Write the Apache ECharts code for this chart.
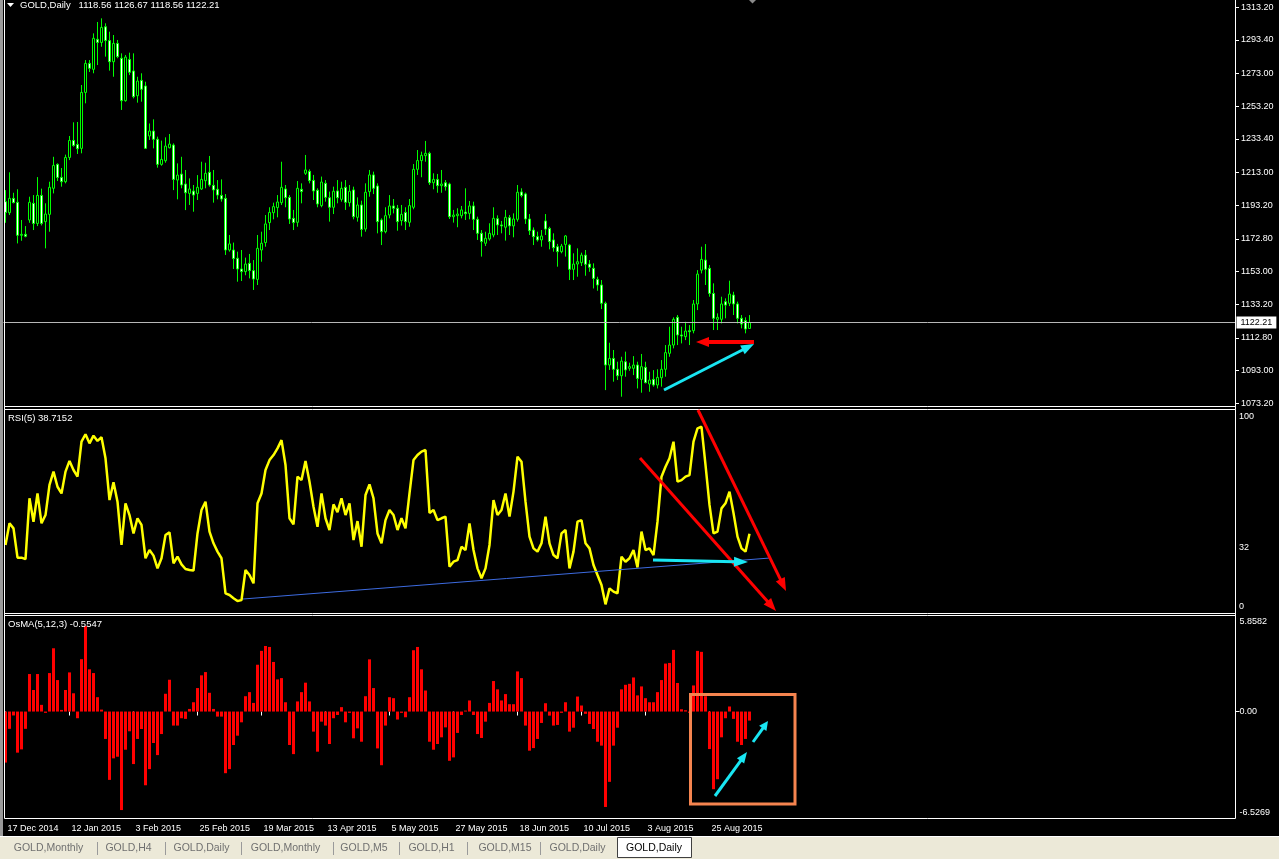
<!DOCTYPE html>
<html><head><meta charset="utf-8">
<script src="https://cdn.jsdelivr.net/npm/echarts@6/dist/echarts.min.js"></script>
<style>html,body{margin:0;padding:0;background:#000;overflow:hidden}#c{width:1279px;height:859px}</style>
</head><body><div id="c"></div>
<script>
// ---------- DATA ----------
const openP = [
1195.4,1188.7,1197.4,1195.0,1175.0,1175.6,1184.3,1194.4,1182.2,1199.2,
1183.3,1187.7,1203.5,1218.0,1210.1,1207.5,1222.2,1232.5,1230.1,1227.7,
1261.6,1279.2,1275.6,1293.8,1291.9,1301.4,1293.0,1280.2,1291.3,1282.3,
1256.6,1281.6,1274.6,1259.6,1268.9,1265.5,1235.2,1238.2,1233.2,1218.0,
1220.2,1228.1,1229.7,1208.5,1212.1,1206.1,1200.4,1201.8,1200.4,1203.1,
1208.1,1213.2,1205.3,1202.9,1199.2,1197.4,1166.1,1166.1,1161.1,1154.6,
1153.0,1158.0,1153.6,1148.3,1166.1,1170.6,1182.7,1188.7,1191.8,1194.8,
1203.1,1198.0,1185.3,1182.9,1202.9,1212.6,1213.8,1208.3,1202.3,1193.0,
1206.5,1197.8,1192.0,1201.9,1196.8,1204.1,1194.8,1202.5,1185.9,1193.4,
1178.8,1201.5,1211.6,1204.9,1184.3,1177.2,1187.3,1192.8,1191.4,1183.9,
1188.9,1182.9,1192.0,1215.0,1220.3,1223.3,1224.7,1206.9,1208.9,1205.1,
1206.9,1206.1,1186.3,1186.9,1186.9,1189.1,1188.3,1192.8,1184.7,1176.2,
1170.2,1172.8,1175.2,1185.1,1181.3,1179.9,1185.7,1180.7,1184.7,1201.3,
1200.1,1184.9,1178.2,1174.2,1172.2,1183.7,1179.2,1172.2,1168.1,1165.1,
1169.5,1169.1,1154.4,1157.6,1158.4,1163.0,1157.6,1155.0,1148.3,1144.9,
1133.8,1096.4,1100.4,1093.8,1089.9,1098.4,1094.4,1094.4,1096.4,1087.7,
1095.0,1084.9,1087.7,1084.3,1088.7,1093.8,1103.5,1108.5,1125.3,1114.6,
1113.6,1117.2,1117.2,1133.4,1153.9,1160.0,1155.0,1139.8,1124.1,1124.1,
1134.8,1133.8,1138.8,1133.4,1124.7,1123.3,1118.56];
const closeP = [
1188.9,1197.4,1194.8,1175.0,1175.6,1174.4,1195.0,1182.2,1199.2,1182.2,
1187.9,1204.1,1217.4,1210.1,1207.5,1222.2,1232.5,1229.5,1227.5,1261.6,
1279.2,1276.2,1294.4,1291.9,1301.0,1293.0,1280.2,1291.3,1283.3,1256.6,
1283.0,1273.8,1259.0,1268.5,1263.5,1227.7,1238.2,1233.2,1218.0,1221.0,
1229.1,1230.3,1208.9,1211.5,1205.5,1200.8,1203.1,1199.4,1204.1,1208.9,
1212.6,1205.5,1202.5,1199.4,1197.0,1166.1,1169.8,1160.9,1154.6,1153.0,
1157.6,1153.6,1148.5,1167.1,1170.2,1181.9,1188.9,1192.4,1195.2,1204.1,
1197.8,1184.9,1182.7,1203.5,1201.5,1214.6,1208.1,1201.9,1194.0,1207.3,
1198.0,1192.0,1201.7,1197.8,1203.5,1195.0,1201.7,1186.3,1193.4,1178.6,
1201.1,1211.6,1203.5,1183.3,1177.2,1186.9,1192.8,1191.4,1183.3,1187.7,
1183.3,1193.0,1215.0,1220.3,1223.5,1224.7,1206.9,1208.9,1205.1,1206.1,
1204.5,1186.3,1187.3,1187.9,1190.4,1188.1,1192.8,1184.7,1176.2,1171.2,
1173.2,1176.2,1185.3,1181.3,1180.7,1185.9,1180.7,1184.9,1201.1,1199.1,
1184.9,1177.8,1174.2,1172.2,1174.6,1178.8,1171.2,1167.5,1165.1,1168.5,
1174.6,1154.4,1157.6,1159.0,1163.0,1157.4,1155.6,1148.9,1144.9,1133.8,
1096.4,1100.4,1093.8,1089.9,1098.8,1093.4,1095.4,1096.4,1088.3,1095.4,
1085.7,1087.3,1084.3,1088.9,1093.8,1103.9,1108.5,1124.1,1114.6,1114.0,
1117.0,1116.6,1133.4,1151.5,1160.4,1154.4,1139.8,1124.7,1125.3,1133.4,
1132.7,1139.4,1133.4,1124.7,1121.2,1118.2,1122.21];
const lowP = [
1182.6,1187.3,1194.4,1170.1,1171.7,1173.8,1182.6,1178.2,1180.6,1181.0,
1167.1,1177.2,1200.4,1207.9,1204.5,1206.5,1220.6,1228.7,1224.3,1224.7,
1255.0,1274.0,1273.2,1278.2,1289.3,1283.3,1274.8,1271.1,1282.3,1251.0,
1256.0,1272.1,1258.0,1255.4,1256.0,1227.5,1232.8,1227.7,1216.0,1217.2,
1219.0,1227.7,1202.4,1196.8,1203.5,1190.3,1193.4,1189.3,1196.4,1202.5,
1203.5,1204.5,1194.8,1196.8,1195.4,1163.1,1165.1,1154.6,1146.9,1147.3,
1150.8,1148.9,1141.9,1144.9,1159.0,1168.1,1178.2,1184.7,1185.9,1193.4,
1192.0,1181.9,1178.2,1180.2,1194.4,1211.6,1206.5,1196.4,1192.0,1192.0,
1195.4,1183.3,1187.9,1194.4,1195.4,1190.4,1192.4,1184.7,1183.3,1174.2,
1177.2,1198.4,1200.0,1176.2,1169.1,1176.2,1185.3,1188.3,1177.8,1180.9,
1178.2,1180.2,1190.8,1211.6,1210.2,1219.6,1205.5,1202.9,1200.8,1200.8,
1202.1,1184.9,1182.7,1179.9,1185.3,1184.3,1184.7,1178.2,1172.2,1162.1,
1168.5,1171.8,1173.8,1175.2,1176.2,1171.8,1175.2,1173.8,1183.3,1198.0,
1181.9,1175.2,1169.1,1171.2,1168.1,1175.2,1166.5,1165.1,1156.0,1164.1,
1162.1,1147.9,1147.9,1149.9,1156.4,1150.5,1152.9,1142.8,1141.4,1130.3,
1081.2,1093.4,1086.3,1087.3,1077.2,1089.3,1092.9,1090.3,1082.2,1079.6,
1085.3,1080.2,1083.3,1082.2,1083.3,1089.3,1101.4,1106.5,1108.5,1109.5,
1111.5,1108.5,1115.6,1129.7,1151.9,1144.9,1137.8,1117.6,1117.6,1121.6,
1124.7,1132.1,1126.7,1121.6,1118.6,1115.6,1118.56];
const highP = [
1202.4,1213.2,1200.8,1202.9,1184.3,1180.6,1198.4,1199.4,1210.3,1203.3,
1194.4,1207.5,1222.6,1218.6,1215.8,1223.9,1235.2,1243.5,1243.7,1266.1,
1281.2,1281.2,1297.4,1304.3,1306.5,1303.5,1298.4,1296.4,1293.4,1285.3,
1284.3,1285.7,1285.3,1271.1,1273.2,1268.1,1242.8,1245.3,1234.8,1232.4,
1234.4,1236.4,1230.7,1218.6,1222.6,1214.6,1209.5,1205.5,1211.5,1219.6,
1219.0,1223.1,1214.6,1208.5,1208.9,1200.0,1175.2,1170.6,1165.1,1166.1,
1161.5,1163.7,1160.0,1175.2,1177.2,1187.3,1192.0,1194.8,1199.4,1219.6,
1205.5,1199.4,1190.4,1207.9,1206.5,1223.7,1215.0,1211.6,1203.5,1210.6,
1208.5,1201.5,1204.5,1208.5,1207.5,1208.5,1205.5,1204.5,1198.0,1196.0,
1206.5,1214.6,1213.6,1206.5,1185.3,1192.0,1199.4,1197.0,1193.4,1193.4,
1192.0,1197.0,1218.2,1226.7,1225.7,1232.2,1225.7,1212.6,1212.2,1214.6,
1208.5,1206.9,1190.4,1191.4,1192.8,1203.5,1195.8,1195.4,1186.3,1178.2,
1177.2,1182.3,1192.0,1187.1,1183.7,1190.4,1187.3,1188.3,1205.5,1203.5,
1200.9,1187.9,1179.8,1177.2,1178.2,1187.9,1180.2,1176.2,1169.8,1169.8,
1175.2,1169.8,1164.1,1167.1,1164.5,1166.1,1160.0,1158.0,1149.9,1147.9,
1134.8,1109.9,1105.5,1098.4,1101.4,1104.5,1097.8,1101.8,1098.4,1103.1,
1098.4,1092.3,1093.3,1093.8,1099.4,1108.5,1119.6,1125.3,1126.7,1119.6,
1122.6,1120.6,1135.8,1153.9,1168.1,1169.7,1157.0,1145.9,1127.7,1137.8,
1136.8,1147.5,1140.8,1134.8,1126.7,1125.3,1126.67];
const rsiValues = [
33.2,43.9,41.4,26.9,26.9,26.2,56.3,44.7,58.7,43.9,
48.0,62.9,69.5,62.0,58.7,69.5,74.8,70.3,67.0,84.3,
88.0,83.5,87.3,84.7,86.5,76.1,55.4,64.2,54.6,33.2,
53.8,48.0,38.9,46.4,43.1,26.6,30.7,27.9,21.6,26.6,
38.1,39.4,24.1,27.4,23.6,21.3,20.8,20.5,38.9,50.5,
54.6,39.8,34.0,29.9,26.6,9.2,8.4,6.8,5.4,5.9,
20.8,18.3,14.2,53.8,58.7,70.3,75.2,77.7,81.0,85.1,
72.8,46.4,43.4,67.0,65.3,74.8,64.5,52.1,42.2,58.7,
46.4,40.6,53.3,49.4,56.3,48.0,53.8,35.6,45.0,32.3,
57.9,63.2,56.3,38.9,34.0,45.5,50.5,48.0,40.6,46.4,
41.4,58.7,75.2,77.7,79.4,80.2,49.0,50.5,45.5,46.4,
47.2,22.4,24.9,25.7,32.3,30.7,43.9,30.7,21.6,16.7,
21.6,33.2,55.4,48.0,50.5,58.7,47.2,59.6,76.9,74.4,
54.6,37.3,31.5,29.9,34.0,47.2,34.0,28.2,26.6,38.9,
40.6,21.6,29.9,44.7,45.5,34.0,31.5,23.3,18.3,13.4,
3.8,11.7,10.1,9.2,27.4,24.9,26.6,30.7,22.1,39.8,
30.7,31.5,28.2,44.7,67.0,71.9,76.1,84.3,64.5,65.3,
67.0,67.8,84.3,90.9,91.7,72.8,53.0,38.9,39.8,51.3,
53.8,59.6,49.0,37.3,31.5,29.9,38.7152];
const osmaValues = [
-3.13,-1.06,-0.24,-2.52,-2.32,-1.06,2.30,1.32,2.30,0.41,
-0.08,2.36,3.88,1.93,0.10,1.32,2.40,1.12,-0.41,3.21,
5.24,2.59,2.36,0.88,0.12,-1.68,-4.19,-2.87,-2.77,-6.04,
-2.34,-1.21,-3.22,-1.68,-1.07,-4.52,-3.53,-1.93,-2.67,-1.38,
1.09,1.95,-0.86,-0.86,-0.41,-0.45,0.16,0.57,1.44,2.22,
2.42,1.15,0.16,-0.31,-0.31,-3.78,-3.53,-2.05,-1.48,-0.66,
0.94,1.19,0.53,2.87,3.72,4.02,3.96,3.04,1.97,2.05,
0.57,-2.05,-2.61,0.62,1.19,1.77,0.62,-1.23,-2.46,-0.62,
-0.86,-1.99,-0.41,-0.21,0.27,-0.66,-0.08,-1.64,-1.03,-1.85,
0.94,3.20,1.44,-2.26,-3.29,-0.86,0.88,0.82,-0.49,-0.08,
-0.35,0.88,3.76,3.96,2.59,1.29,-1.85,-2.34,-1.99,-1.58,
-0.97,-3.02,-2.81,-1.31,-0.21,0.06,0.68,-0.21,-1.38,-1.62,
-0.62,0.53,1.87,1.36,0.68,1.07,0.45,0.45,2.46,2.05,
-0.86,-2.40,-2.24,-1.68,-0.70,0.51,-0.25,-0.86,-0.82,-0.08,
0.57,-1.23,-0.99,0.92,0.37,-0.14,-0.76,-1.07,-1.85,-2.09,
-5.85,-4.31,-2.09,-0.99,1.36,1.64,1.70,2.09,0.99,1.54,
0.82,0.57,0.57,1.19,1.93,2.94,2.98,3.78,1.75,0.14,
0.08,-0.08,1.60,3.72,3.66,0.94,-2.30,-4.76,-4.15,-1.58,
-0.41,0.31,-0.45,-1.85,-2.05,-1.68,-0.5547];
const dateTickLabels = ['17 Dec 2014','12 Jan 2015','3 Feb 2015','25 Feb 2015','19 Mar 2015','13 Apr 2015','5 May 2015','27 May 2015','18 Jun 2015','10 Jul 2015','3 Aug 2015','25 Aug 2015'];
const dateTickEvery = 16;
const priceTickValues = [1313.20,1293.40,1273.00,1253.20,1233.40,1213.00,1193.20,1172.80,1153.00,1133.20,1112.80,1093.00,1073.20];
const rsiTickValues = [100,32,0];
const osmaTickValues = [5.8582,0,-6.5269];
const tabNames = ['GOLD,Monthly','GOLD,H4','GOLD,Daily','GOLD,Monthly','GOLD,M5','GOLD,H1','GOLD,M15','GOLD,Daily','GOLD,Daily'];

// ---------- layout / style ----------
const slotCount = 308;            // visible bar slots (incl. empty chart shift area)
const priceMin = 1071.56, priceMax = 1317.62;
const osmaMin = -6.5269, osmaMax = 5.8582;
const FONT = 'Liberation Sans, Arial, sans-serif';
const WHITE = '#ffffff';
const CYAN = '#19e6f2';

const categories = Array.from({length: slotCount}, (_, i) => String(i));
const candles = openP.map((o, i) => [o, closeP[i], lowP[i], highP[i]]);
const lastIdx = closeP.length - 1;

const chart = echarts.init(document.getElementById('c'), null, {renderer: 'canvas'});

const gridBase = {left: 3.5, width: 1232, containLabel: false, outerBoundsMode: 'none', show: false};
const tickFilter = (idx) => idx % dateTickEvery === 0 && idx / dateTickEvery < dateTickLabels.length;

function hiddenX(k) {
  return {type: 'category', gridIndex: k, data: categories, boundaryGap: true,
    axisLine: {show: false}, axisTick: {show: false}, axisLabel: {show: false}, splitLine: {show: false}};
}

function arrow(x1, y1, x2, y2, color, lw, headLen, headHalf) {
  const dx = x2 - x1, dy = y2 - y1, L = Math.hypot(dx, dy);
  const ux = dx / L, uy = dy / L, px = -uy, py = ux;
  const bx = x2 - ux * headLen, by = y2 - uy * headLen;
  return [
    {type: 'line', z: 100, shape: {x1, y1, x2: bx + ux, y2: by + uy}, style: {stroke: color, lineWidth: lw}},
    {type: 'polygon', z: 100, shape: {points: [[x2, y2], [bx + px * headHalf, by + py * headHalf], [bx - px * headHalf, by - py * headHalf]]}, style: {fill: color}}
  ];
}
function hline(y, x1, x2, color) {
  return {type: 'line', z: 90, shape: {x1, y1: y, x2, y2: y}, style: {stroke: color || WHITE, lineWidth: 1}};
}
function vline(x, y1, y2, color) {
  return {type: 'line', z: 90, shape: {x1: x, y1, x2: x, y2}, style: {stroke: color || WHITE, lineWidth: 1}};
}
function txt(x, y, s, opts) {
  return Object.assign({type: 'text', z: 110, x, y, style: Object.assign({text: s, fill: WHITE, font: '9px ' + FONT, textVerticalAlign: 'middle', verticalAlign: 'middle'}, opts || {})});
}

const headerText = 'GOLD,Daily   ' + openP[lastIdx].toFixed(2) + ' ' + highP[lastIdx].toFixed(2) + ' ' + lowP[lastIdx].toFixed(2) + ' ' + closeP[lastIdx].toFixed(2);

// tabs
const tabSeps = [97, 165, 241, 333, 399, 467, 540];
const tabCenters = [48.5, 128.5, 201.5, 285.5, 364, 431.5, 505, 577.5, 654];
const tabGraphics = [
  {type: 'rect', z: 80, shape: {x: 0, y: 836, width: 1279, height: 23}, style: {fill: '#ece9d8'}},
  hline(836.5, 0, 1279, '#ffffff'),
  {type: 'rect', z: 85, shape: {x: 617.5, y: 837.5, width: 74, height: 20}, style: {fill: '#ffffff', stroke: '#404040', lineWidth: 1}}
];
tabSeps.forEach(x => tabGraphics.push(vline(x + 0.5, 842, 855, '#9a9a9a')));
tabNames.forEach((n, i) => tabGraphics.push(txt(tabCenters[i], 848.5, n, {fill: i === tabNames.length - 1 ? '#000000' : '#707070', font: '10.5px ' + FONT, textAlign: 'center', align: 'center'})));

const graphics = [
  {type: 'rect', z: 90, shape: {x: 0, y: 0, width: 3, height: 836}, style: {fill: '#9a9a9a'}},
  vline(4.5, 0, 818.5), vline(1235.5, 0, 818.5),
  hline(406.5, 4.5, 1235.5), hline(409.5, 4.5, 1235.5),
  hline(613.5, 4.5, 1235.5), hline(615.5, 4.5, 1235.5),
  hline(818.5, 4.5, 1235.5),
  {type: 'polygon', z: 110, shape: {points: [[7, 3], [14, 3], [10.5, 7]]}, style: {fill: WHITE}},
  {type: 'polygon', z: 110, shape: {points: [[749, 0], [756, 0], [752.5, 3.5]]}, style: {fill: '#8a8a8a'}},
  txt(20, 5.5, headerText, {font: '9.5px ' + FONT}),
  txt(8, 418, 'RSI(5) ' + rsiValues[lastIdx].toFixed(4), {font: '9.5px ' + FONT}),
  txt(8, 624.5, 'OsMA(5,12,3) ' + osmaValues[lastIdx].toFixed(4), {font: '9.5px ' + FONT}),
  // annotations
  ...arrow(754, 342, 696, 342, '#ff0000', 4, 13, 5),
  ...arrow(664, 390, 754, 344, CYAN, 3, 13, 5),
  {type: 'line', z: 95, shape: {x1: 243, y1: 599, x2: 770, y2: 558}, style: {stroke: '#3d6be0', lineWidth: 1}},
  ...arrow(640, 458, 776, 611, '#ff0000', 3, 13, 5),
  ...arrow(698, 410, 786, 591, '#ff0000', 3, 13, 5),
  ...arrow(653, 560, 748, 562, CYAN, 3, 14, 5),
  {type: 'rect', z: 100, shape: {x: 690.5, y: 694.5, width: 104.5, height: 109.5}, style: {fill: 'none', stroke: '#f5844f', lineWidth: 3}},
  ...arrow(715, 796, 747, 752, CYAN, 3, 11, 4.5),
  ...arrow(753, 742, 768, 721, CYAN, 3, 9, 4.5),
  ...tabGraphics
];

const labelBase = {color: WHITE, fontSize: 9, fontFamily: FONT};

const option = {
  backgroundColor: '#000000',
  animation: false,
  grid: [
    Object.assign({top: 0, height: 406}, gridBase),
    Object.assign({top: 410, height: 202}, gridBase),
    Object.assign({top: 616, height: 202}, gridBase)
  ],
  xAxis: [hiddenX(0), hiddenX(1), {
    type: 'category', gridIndex: 2, data: categories, boundaryGap: true,
    axisLine: {show: false},
    axisTick: {show: true, alignWithLabel: true, interval: tickFilter, length: 4, lineStyle: {color: WHITE}},
    axisLabel: Object.assign({show: true, interval: tickFilter, align: 'left', margin: 6, padding: [0, 0, 0, 2],
      formatter: (v, idx) => dateTickLabels[idx / dateTickEvery]}, labelBase),
    splitLine: {show: false}
  }],
  yAxis: [
    {type: 'value', gridIndex: 0, position: 'right', min: priceMin, max: priceMax, scale: true,
      splitLine: {show: false}, axisLine: {show: false},
      axisTick: {show: true, length: 3.5, customValues: priceTickValues, lineStyle: {color: WHITE}},
      axisLabel: Object.assign({margin: 5.5, customValues: priceTickValues, formatter: v => v.toFixed(2)}, labelBase)},
    {type: 'value', gridIndex: 1, position: 'right', min: 0, max: 100,
      splitLine: {show: false}, axisLine: {show: false}, axisTick: {show: false},
      axisLabel: Object.assign({margin: 3.5, customValues: rsiTickValues,
        formatter: v => v === 100 ? '{t|100}' : (v === 0 ? '{b|0}' : '{m|' + v + '}'),
        rich: {t: Object.assign({padding: [13, 0, 0, 0]}, labelBase), b: Object.assign({padding: [0, 0, 11, 0]}, labelBase), m: Object.assign({}, labelBase)}}, labelBase)},
    {type: 'value', gridIndex: 2, position: 'right', min: osmaMin, max: osmaMax,
      splitLine: {show: false}, axisLine: {show: false},
      axisTick: {show: true, length: 4, customValues: [0], lineStyle: {color: WHITE}},
      axisLabel: Object.assign({margin: 4, customValues: osmaTickValues,
        formatter: v => v === 0 ? '{m|0.00}' : (v > 0 ? '{t|' + v.toFixed(4) + '}' : '{b|' + v.toFixed(4) + '}'),
        rich: {t: Object.assign({padding: [12, 0, 0, 0]}, labelBase), b: Object.assign({padding: [0, 0, 10, 0]}, labelBase), m: Object.assign({}, labelBase)}}, labelBase)}
  ],
  series: [
    {type: 'candlestick', name: 'GOLD', xAxisIndex: 0, yAxisIndex: 0, data: candles, barWidth: 2,
      itemStyle: {color: '#000000', color0: '#ffffff', borderColor: '#00ff00', borderColor0: '#00ff00', borderColorDoji: '#00ff00', borderWidth: 1},
      markLine: {silent: true, symbol: 'none', animation: false,
        lineStyle: {color: '#b8b8b8', width: 1, type: 'solid'},
        label: {show: true, position: 'end', distance: 1, formatter: () => closeP[lastIdx].toFixed(2),
          backgroundColor: '#ffffff', color: '#000000', fontSize: 9, fontFamily: FONT, padding: [2, 4, 1, 4]},
        data: [{yAxis: closeP[lastIdx]}]}
    },
    {type: 'line', name: 'RSI(5)', xAxisIndex: 1, yAxisIndex: 1, data: rsiValues, symbol: 'none',
      lineStyle: {color: '#ffff00', width: 2.5}},
    {type: 'bar', name: 'OsMA', xAxisIndex: 2, yAxisIndex: 2, data: osmaValues, barWidth: 3,
      itemStyle: {color: '#ff0000'}}
  ],
  graphic: graphics
};
chart.setOption(option);
</script>
</body></html>
